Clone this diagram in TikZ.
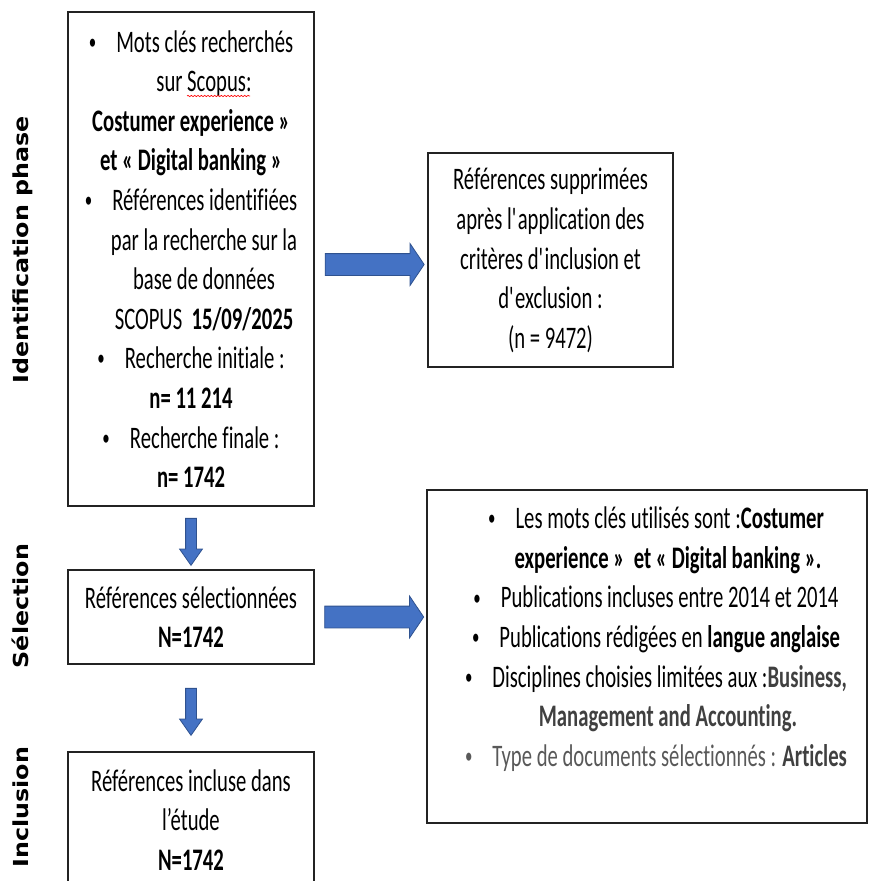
\documentclass[tikz,border=0pt]{standalone}
\usepackage{fontspec}
\setmainfont[FakeStretch=0.66, Ligatures={TeX,NoCommon}]{Carlito}
\newfontfamily\phasefont[FakeStretch=1.15]{DejaVu Sans}
\usetikzlibrary{shapes.arrows,calc,decorations.pathmorphing}

\definecolor{arrowfill}{RGB}{68,114,196}
\definecolor{arrowline}{RGB}{47,82,143}
\definecolor{boxline}{RGB}{35,35,35}
\definecolor{darkgraytext}{RGB}{64,64,64}
\definecolor{graytext}{RGB}{89,89,89}

\newcommand{\bul}{\raisebox{2.2pt}{\scalebox{0.72}{\textbullet}}\hspace{15pt}}
\newcommand{\apos}{\textquotesingle\kern-0.8pt}

\tikzset{
  refbox/.style={draw=boxline, line width=1.1pt, align=center, inner sep=0pt,
    font=\fontsize{23.5}{29.7}\selectfont},
  sidearrow/.style={single arrow, draw=arrowline, fill=arrowfill, line width=0.6pt,
    inner sep=7.875pt, minimum height=74.25pt, minimum width=30.75pt,
    single arrow head extend=7.5pt, single arrow tip angle=112},
  downarrow/.style={single arrow, draw=arrowline, fill=arrowfill, line width=0.6pt,
    inner sep=3.75pt, minimum height=35.25pt, minimum width=16.5pt,
    single arrow head extend=4.5pt, single arrow tip angle=70, shape border rotate=270},
  phase/.style={rotate=90, anchor=base, font=\phasefont\bfseries\fontsize{15.5}{18}\selectfont}
}

\begin{document}
\begin{tikzpicture}[x=0.75pt, y=-0.75pt]
	\useasboundingbox (0,0) rectangle (869,881);
	\clip (0,0) rectangle (869,881);

	% phases
	\node[phase] (phaseid) at (28,250) {Identification phase};
	\node[phase] (phasesel) at (28,606) {Sélection};
	\node[phase] (phaseinc) at (28,807) {Inclusion};

	% left column
	\node[refbox, minimum width=184.5pt, minimum height=370.5pt] (idbox) at (191,259) {%
		\bul Mots clés recherchés\\
		\hspace*{19.5pt}sur Scopus:\\
		\textbf{Costumer experience »}\\
		\textbf{et « Digital banking »}\\
		\bul Références identifiées\\
		\hspace*{19.5pt}par la recherche sur la\\
		\hspace*{19.5pt}base de données\\
		\hspace*{19.5pt}SCOPUS\ \ \textbf{15/09/2025}\\
		\bul Recherche initiale :\\
		\textbf{n= 11 214}\\
		\bul Recherche finale :\\
		\textbf{n= 1742}};
	\node[refbox, minimum width=184.5pt, minimum height=70.5pt] (selbox) at (191,617) {Références sélectionnées\\ \textbf{N=1742}};
	\node[refbox, minimum width=184.5pt, minimum height=102pt] (incbox) at (191,820) {Références incluse dans\\ l’étude\\ \textbf{N=1742}};

	% right column
	\node[refbox, minimum width=183.75pt, minimum height=160.5pt] (supbox) at (550.5,260) {%
		\rule{0pt}{17pt}Références supprimées\\
		après l\apos application des\\
		critères d\apos inclusion et\\
		d\apos exclusion :\\
		(n = 9472)};
	\node[refbox, minimum width=330pt, minimum height=249.75pt] (critbox) at (647,656.5) {%
		\hspace*{13.5pt}\bul Les mots clés utilisés sont :\textbf{Costumer}\\
		\hspace*{31.5pt}\textbf{experience »\ \ et « Digital banking ».}\\
		\hspace*{13.5pt}\bul Publications incluses entre 2014 et 2014\\
		\hspace*{13.5pt}\bul Publications rédigées en \textbf{langue anglaise}\\
		\hspace*{13.5pt}\bul Disciplines choisies limitées aux :\textbf{\color{darkgraytext}Business,}\\
		\hspace*{31.5pt}\textbf{\color{darkgraytext}Management and Accounting.}\\
		\hspace*{13.5pt}{\color{graytext}\bul Type de documents sélectionnés : \textbf{\color{darkgraytext}Articles}}\\
		~};

	% arrows
	\node[sidearrow, yshift=-3.75pt] (arrsup) at ($(idbox.east)!0.5!(supbox.west)$) {};
	\node[sidearrow] (arrcrit) at ($(selbox.east)!0.5!(critbox.west |- selbox.east)$) {};
	\node[downarrow] (arrsel) at ($(idbox.south)!0.5!(selbox.north)$) {};
	\node[downarrow] (arrinc) at ($(selbox.south)!0.5!(incbox.north)$) {};

	% spell check mark
	\draw[red, line width=0.5pt, decorate, decoration={snake, amplitude=0.5pt, segment length=2.5pt}] (187,96) -- (250,96);
\end{tikzpicture}
\end{document}
